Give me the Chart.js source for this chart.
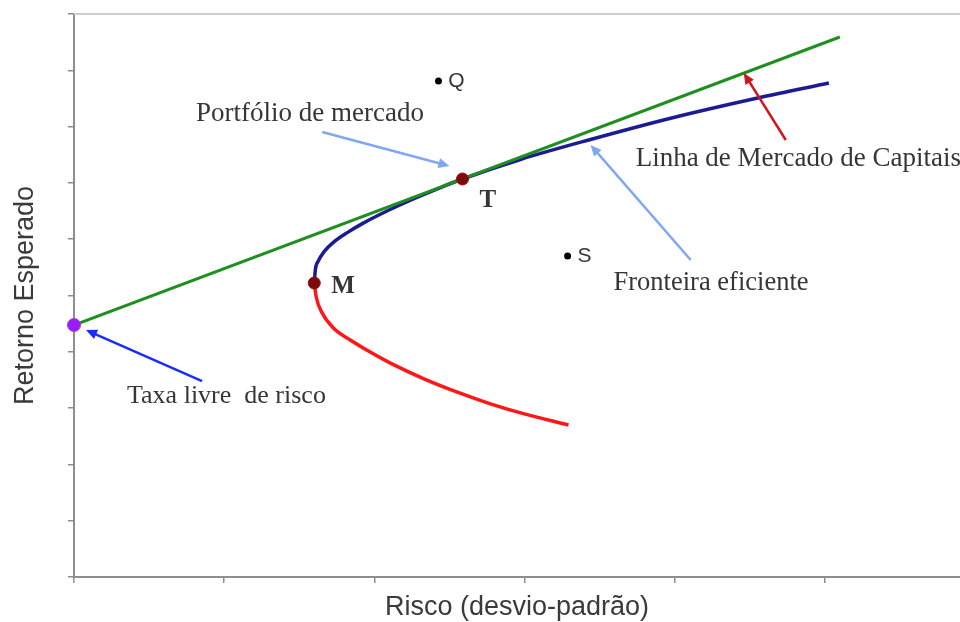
<!DOCTYPE html>
<html lang="pt"><head>
<meta charset="utf-8">
<title>Fronteira eficiente</title>
<script src="https://cdn.jsdelivr.net/npm/chart.js@4.4.3/dist/chart.umd.min.js"></script>
<style>
  html,body{margin:0;padding:0;background:#fff;overflow:hidden}
  canvas{display:block}
</style>
</head><body>
<canvas id="chart" width="960" height="622"></canvas>
<script>
// risco (x) e retorno esperado (y)
const riskFreeX = [0]
const riskFreeY = [4.476]
const cmlX = [0, 5.1]
const cmlY = [4.476, 9.591]
const upperX = [1.6, 1.607, 1.627, 1.667, 1.727, 1.82, 1.92, 2.04, 2.26, 2.44, 2.587, 2.973, 3.44, 3.993, 4.553, 5.027]
const upperY = [5.222, 5.453, 5.613, 5.783, 5.943, 6.117, 6.277, 6.444, 6.714, 6.917, 7.069, 7.416, 7.771, 8.162, 8.508, 8.774]
const lowerX = [1.6, 1.613, 1.653, 1.727, 1.84, 1.993, 2.107, 2.327, 2.553, 2.773, 2.993, 3.293]
const lowerY = [5.222, 4.973, 4.689, 4.423, 4.21, 3.964, 3.799, 3.524, 3.282, 3.076, 2.901, 2.7]
const keyLabels = ['M', 'T']
const keyX = [1.6, 2.587]
const keyY = [5.222, 7.069]
const assetLabels = ['Q', 'S']
const assetX = [2.427, 3.287]
const assetY = [8.81, 5.702]

const pts = (xs, ys) => xs.map((x, i) => ({ x, y: ys[i] }))

// anotações: texto (canto esquerdo, linha de base) e seta (cauda -> ponta), em unidades dos eixos
const notes = [
  { text: 'Portfólio de mercado', size: 27, at: [0.813, 8.099], arrow: [[1.653, 7.904], [2.5, 7.3]], color: '#80a8f2' },
  { text: 'Linha de Mercado de Capitais', size: 27, at: [3.74, 7.3], arrow: [[4.74, 7.762], [4.46, 8.952]], color: '#d0161b' },
  { text: 'Fronteira eficiente', size: 26.5, at: [3.593, 5.098], arrow: [[4.107, 5.631], [3.44, 7.673]], color: '#80a8f2' },
  { text: 'Taxa livre  de risco', size: 26, at: [0.353, 3.091], arrow: [[0.853, 3.481], [0.08, 4.387]], color: '#1a2cf5' },
]
const keyLabelAt = [[1.713, 5.044], [2.7, 6.572]]
const assetLabelAt = [[2.493, 8.81], [3.353, 5.702]]

function arrow(ctx, x1, y1, x2, y2, color) {
  const a = Math.atan2(y2 - y1, x2 - x1)
  const len = 11, w = 5
  ctx.strokeStyle = color
  ctx.fillStyle = color
  ctx.lineWidth = 2.5
  ctx.beginPath()
  ctx.moveTo(x1, y1)
  ctx.lineTo(x2 - Math.cos(a) * len * 0.8, y2 - Math.sin(a) * len * 0.8)
  ctx.stroke()
  ctx.beginPath()
  ctx.moveTo(x2, y2)
  ctx.lineTo(x2 - Math.cos(a) * len - Math.sin(a) * w, y2 - Math.sin(a) * len + Math.cos(a) * w)
  ctx.lineTo(x2 - Math.cos(a) * len + Math.sin(a) * w, y2 - Math.sin(a) * len - Math.cos(a) * w)
  ctx.closePath()
  ctx.fill()
}

const annotations = {
  id: 'annotations',
  beforeDatasetsDraw(chart) {
    const { ctx, chartArea: ca } = chart
    ctx.save()
    ctx.strokeStyle = '#cfcfcf'
    ctx.lineWidth = 2
    ctx.beginPath()
    ctx.moveTo(ca.left, ca.top)
    ctx.lineTo(ca.right, ca.top)
    ctx.stroke()
    ctx.restore()
  },
  afterDatasetsDraw(chart) {
    const { ctx, scales: { x, y } } = chart
    const px = v => x.getPixelForValue(v)
    const py = v => y.getPixelForValue(v)
    ctx.save()
    notes.forEach(n => {
      const [[ax, ay], [bx, by]] = n.arrow
      arrow(ctx, px(ax), py(ay), px(bx), py(by), n.color)
    })
    ctx.fillStyle = '#363636'
    ctx.textBaseline = 'alphabetic'
    notes.forEach(n => {
      ctx.font = n.size + 'px "Liberation Serif", serif'
      ctx.fillText(n.text, px(n.at[0]), py(n.at[1]))
    })
    ctx.font = 'bold 25px "Liberation Serif", serif'
    keyLabels.forEach((t, i) => ctx.fillText(t, px(keyLabelAt[i][0]), py(keyLabelAt[i][1])))
    ctx.textBaseline = 'middle'
    ctx.font = '21px "Liberation Sans", Arial, sans-serif'
    assetLabels.forEach((t, i) => ctx.fillText(t, px(assetLabelAt[i][0]), py(assetLabelAt[i][1])))
    ctx.restore()
  }
}

const axisColor = '#8e8e8e'
const titleFont = { family: '"Liberation Sans", Arial, sans-serif', size: 27, lineHeight: 1 }

new Chart(document.getElementById('chart'), {
  type: 'scatter',
  data: {
    datasets: [
      { data: pts(keyX, keyY), pointRadius: 6, pointBackgroundColor: '#7d0a0a', pointBorderColor: '#9a1010', pointBorderWidth: 1, showLine: false },
      { data: pts(assetX, assetY), pointRadius: 3.5, pointBackgroundColor: '#000', pointBorderWidth: 0, showLine: false },
      { data: pts(riskFreeX, riskFreeY), pointRadius: 6.5, pointBackgroundColor: '#9b1cf5', pointBorderColor: '#a638ff', pointBorderWidth: 1, showLine: false, clip: false },
      { data: pts(cmlX, cmlY), showLine: true, borderColor: '#1f8f1f', borderWidth: 3, pointRadius: 0 },
      { data: pts(upperX, upperY), showLine: true, borderColor: '#1c1c92', borderWidth: 3.5, pointRadius: 0, cubicInterpolationMode: 'monotone' },
      { data: pts(lowerX, lowerY), showLine: true, borderColor: '#ff1717', borderWidth: 3.5, pointRadius: 0, cubicInterpolationMode: 'monotone' },
    ]
  },
  options: {
    responsive: false,
    animation: false,
    devicePixelRatio: 1,
    layout: { autoPadding: false, padding: { top: 14, right: 0, left: 0, bottom: 0 } },
    plugins: { legend: { display: false }, tooltip: { enabled: false } },
    scales: {
      x: {
        type: 'linear', min: 0, max: 5.9,
        ticks: { display: false, stepSize: 1, includeBounds: false },
        grid: { drawOnChartArea: false, drawTicks: true, tickLength: 6, color: axisColor, lineWidth: 1.5 },
        border: { color: axisColor, width: 2 },
        title: { display: true, text: 'Risco (desvio-padrão)', color: '#3a3a3a', font: titleFont, padding: { top: 0, bottom: 1 } },
        afterFit(s) { s.height = 45 }
      },
      y: {
        type: 'linear', min: 0, max: 10,
        ticks: { display: false, stepSize: 1 },
        grid: { drawOnChartArea: false, drawTicks: true, tickLength: 6, color: axisColor, lineWidth: 1.5 },
        border: { color: axisColor, width: 2 },
        title: { display: true, text: 'Retorno Esperado', color: '#3a3a3a', font: titleFont, padding: { top: 12, bottom: 0 } },
        afterFit(s) { s.width = 74 }
      }
    }
  },
  plugins: [annotations]
})
</script>
</body></html>
